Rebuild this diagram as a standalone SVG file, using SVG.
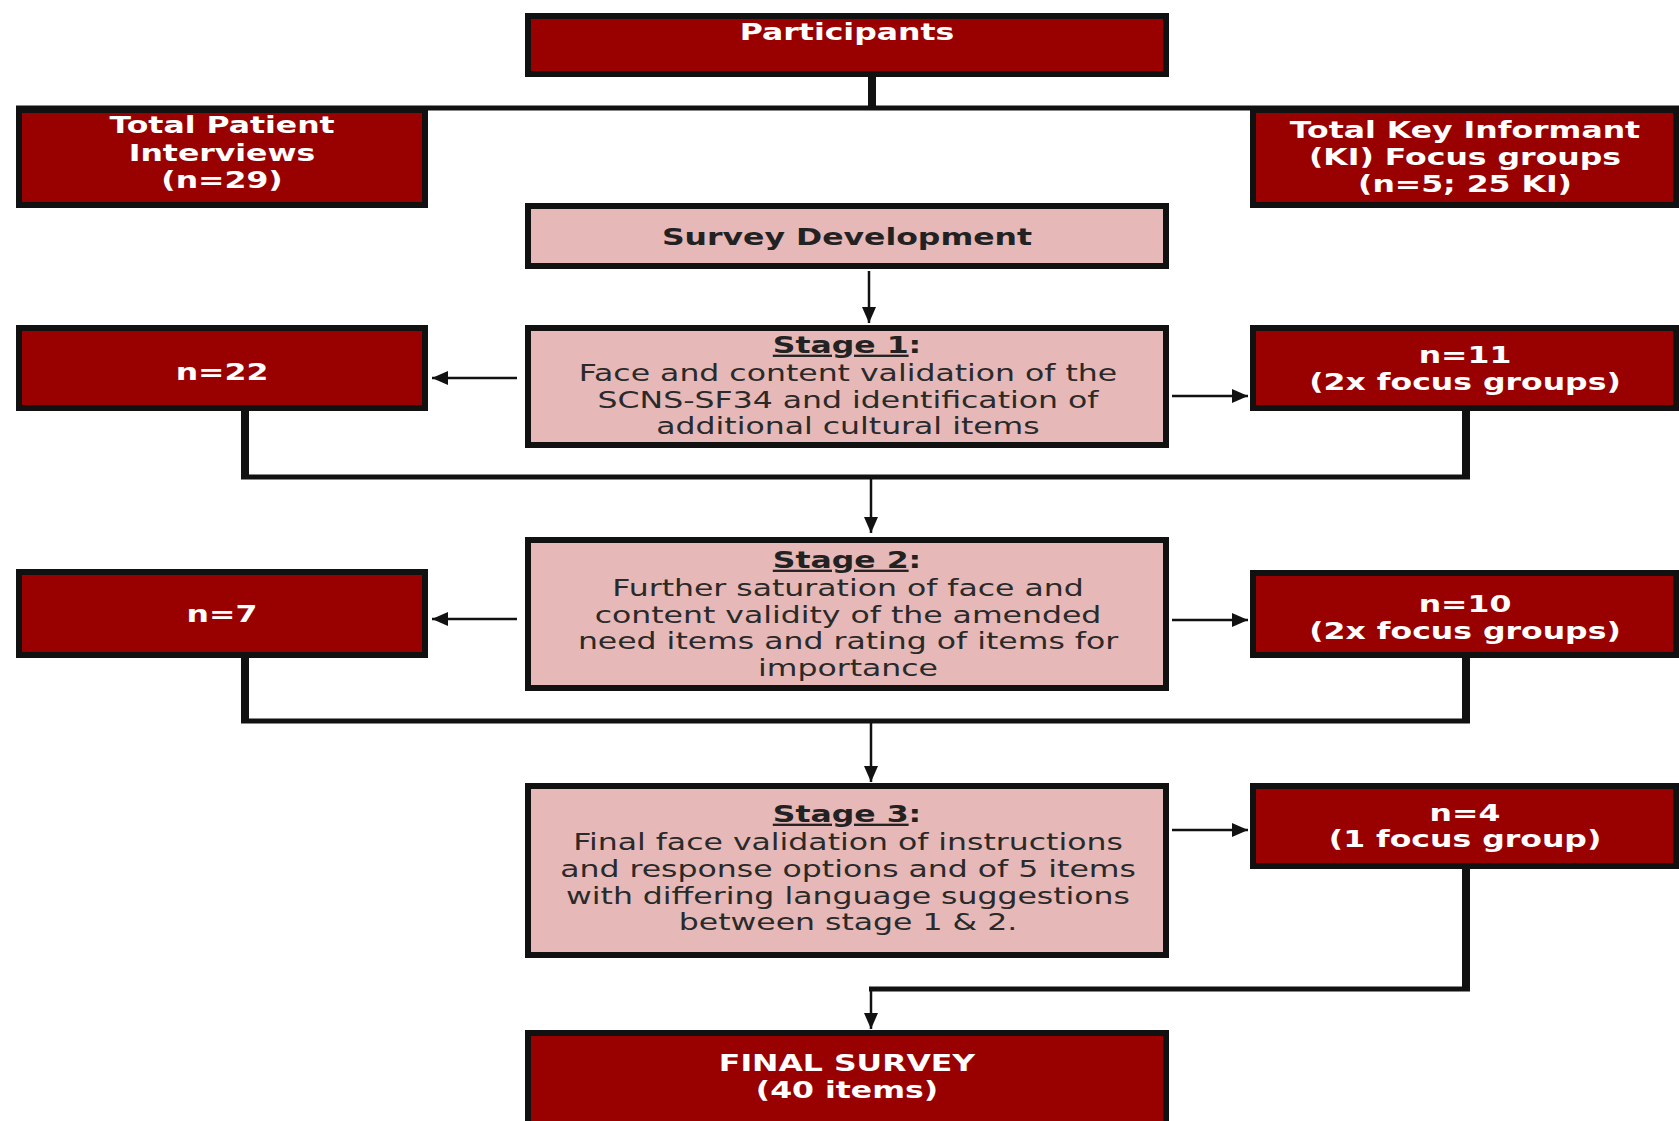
<svg xmlns="http://www.w3.org/2000/svg" width="1679" height="1121" viewBox="0 0 1679 1121">
<style>
.dk{fill:#990000;stroke:#111;stroke-width:6}
.pk{fill:#E6B8B7;stroke:#111;stroke-width:6}
.tw{font-family:"DejaVu Sans",Verdana,sans-serif;font-size:23px;font-weight:bold;fill:#fff;text-anchor:middle}
.tt{font-family:"DejaVu Sans",Verdana,sans-serif;font-size:23px;font-weight:bold;fill:#222;text-anchor:middle}
.tb{font-family:"DejaVu Sans",Verdana,sans-serif;font-size:23px;fill:#2a2a2a;text-anchor:middle}
.u{text-decoration:underline}
.cv{fill:none;stroke:#111;stroke-width:8}
.ch{fill:none;stroke:#111;stroke-width:5}
.ar{fill:none;stroke:#111;stroke-width:2.5;marker-end:url(#ah)}
</style>
<defs>
<marker id="ah" viewBox="0 0 16 14" refX="16" refY="7" markerWidth="16" markerHeight="14" markerUnits="userSpaceOnUse" orient="auto">
<path d="M0,0 L16,7 L0,14 z" fill="#111"/>
</marker>
</defs>
<rect width="1679" height="1121" fill="#fff"/>

<g id="connectors">
<path class="cv" d="M872,77 V108"/>
<path class="ch" d="M16,108 H1679"/>
<path class="cv" d="M245,411 V479 M1466,411 V479"/>
<path class="ch" d="M241,477 H1470"/>
<path class="cv" d="M245,658 V723 M1466,658 V723"/>
<path class="ch" d="M241,721 H1470"/>
<path class="cv" d="M1466,869 V991"/>
<path class="ch" d="M869,989 H1470"/>
<path class="ar" d="M869,271 V323"/>
<path class="ar" d="M517,378 H432"/>
<path class="ar" d="M1172,396 H1248"/>
<path class="ar" d="M871,477 V533"/>
<path class="ar" d="M517,619 H432"/>
<path class="ar" d="M1172,620 H1248"/>
<path class="ar" d="M871,721 V782"/>
<path class="ar" d="M1172,830 H1248"/>
<path class="ar" d="M871,989 V1029"/>
</g>

<g id="participants">
<rect class="dk" x="528" y="16" width="638" height="58"/>
<text class="tw" transform="translate(847,0) scale(1.37,1)"><tspan x="0" y="40">Participants</tspan></text>
</g>

<g id="patient-interviews">
<rect class="dk" x="19" y="110" width="406" height="95"/>
<text class="tw" transform="translate(222,0) scale(1.37,1)"><tspan x="0" y="133">Total Patient</tspan><tspan x="0" y="161">Interviews</tspan><tspan x="0" y="188">(n=29)</tspan></text>
</g>

<g id="key-informant">
<rect class="dk" x="1253" y="110" width="423" height="95"/>
<text class="tw" transform="translate(1465,0) scale(1.37,1)"><tspan x="0" y="138">Total Key Informant</tspan><tspan x="0" y="165">(KI) Focus groups</tspan><tspan x="0" y="192">(n=5; 25 KI)</tspan></text>
</g>

<g id="survey-development">
<rect class="pk" x="528" y="206" width="638" height="60"/>
<text class="tt" transform="translate(847,0) scale(1.37,1)"><tspan x="0" y="245">Survey Development</tspan></text>
</g>

<g id="stage1">
<rect class="pk" x="528" y="328" width="638" height="117"/>
<text class="tt" transform="translate(847,0) scale(1.37,1)"><tspan x="0" y="353"><tspan class="u">Stage 1</tspan>:</tspan></text>
<text class="tb" transform="translate(848,0) scale(1.37,1)"><tspan x="0" y="381">Face and content validation of the</tspan><tspan x="0" y="408">SCNS-SF34 and identification of</tspan><tspan x="0" y="434">additional cultural items</tspan></text>
</g>

<g id="n22">
<rect class="dk" x="19" y="328" width="406" height="80"/>
<text class="tw" transform="translate(222,0) scale(1.37,1)"><tspan x="0" y="380">n=22</tspan></text>
</g>

<g id="n11">
<rect class="dk" x="1253" y="328" width="423" height="80"/>
<text class="tw" transform="translate(1465,0) scale(1.37,1)"><tspan x="0" y="363">n=11</tspan><tspan x="0" y="390">(2x focus groups)</tspan></text>
</g>

<g id="stage2">
<rect class="pk" x="528" y="540" width="638" height="148"/>
<text class="tt" transform="translate(847,0) scale(1.37,1)"><tspan x="0" y="568"><tspan class="u">Stage 2</tspan>:</tspan></text>
<text class="tb" transform="translate(848,0) scale(1.37,1)"><tspan x="0" y="596">Further saturation of face and</tspan><tspan x="0" y="623">content validity of the amended</tspan><tspan x="0" y="649">need items and rating of items for</tspan><tspan x="0" y="676">importance</tspan></text>
</g>

<g id="n7">
<rect class="dk" x="19" y="572" width="406" height="83"/>
<text class="tw" transform="translate(222,0) scale(1.37,1)"><tspan x="0" y="622">n=7</tspan></text>
</g>

<g id="n10">
<rect class="dk" x="1253" y="573" width="423" height="82"/>
<text class="tw" transform="translate(1465,0) scale(1.37,1)"><tspan x="0" y="612">n=10</tspan><tspan x="0" y="639">(2x focus groups)</tspan></text>
</g>

<g id="stage3">
<rect class="pk" x="528" y="786" width="638" height="169"/>
<text class="tt" transform="translate(847,0) scale(1.37,1)"><tspan x="0" y="822"><tspan class="u">Stage 3</tspan>:</tspan></text>
<text class="tb" transform="translate(848,0) scale(1.37,1)"><tspan x="0" y="850">Final face validation of instructions</tspan><tspan x="0" y="877">and response options and of 5 items</tspan><tspan x="0" y="904">with differing language suggestions</tspan><tspan x="0" y="930">between stage 1 &amp; 2.</tspan></text>
</g>

<g id="n4">
<rect class="dk" x="1253" y="786" width="423" height="80"/>
<text class="tw" transform="translate(1465,0) scale(1.37,1)"><tspan x="0" y="821">n=4</tspan><tspan x="0" y="847">(1 focus group)</tspan></text>
</g>

<g id="final-survey">
<rect class="dk" x="528" y="1033" width="638" height="100"/>
<text class="tw" transform="translate(847,0) scale(1.37,1)"><tspan x="0" y="1071">FINAL SURVEY</tspan><tspan x="0" y="1098">(40 items)</tspan></text>
</g>
</svg>
